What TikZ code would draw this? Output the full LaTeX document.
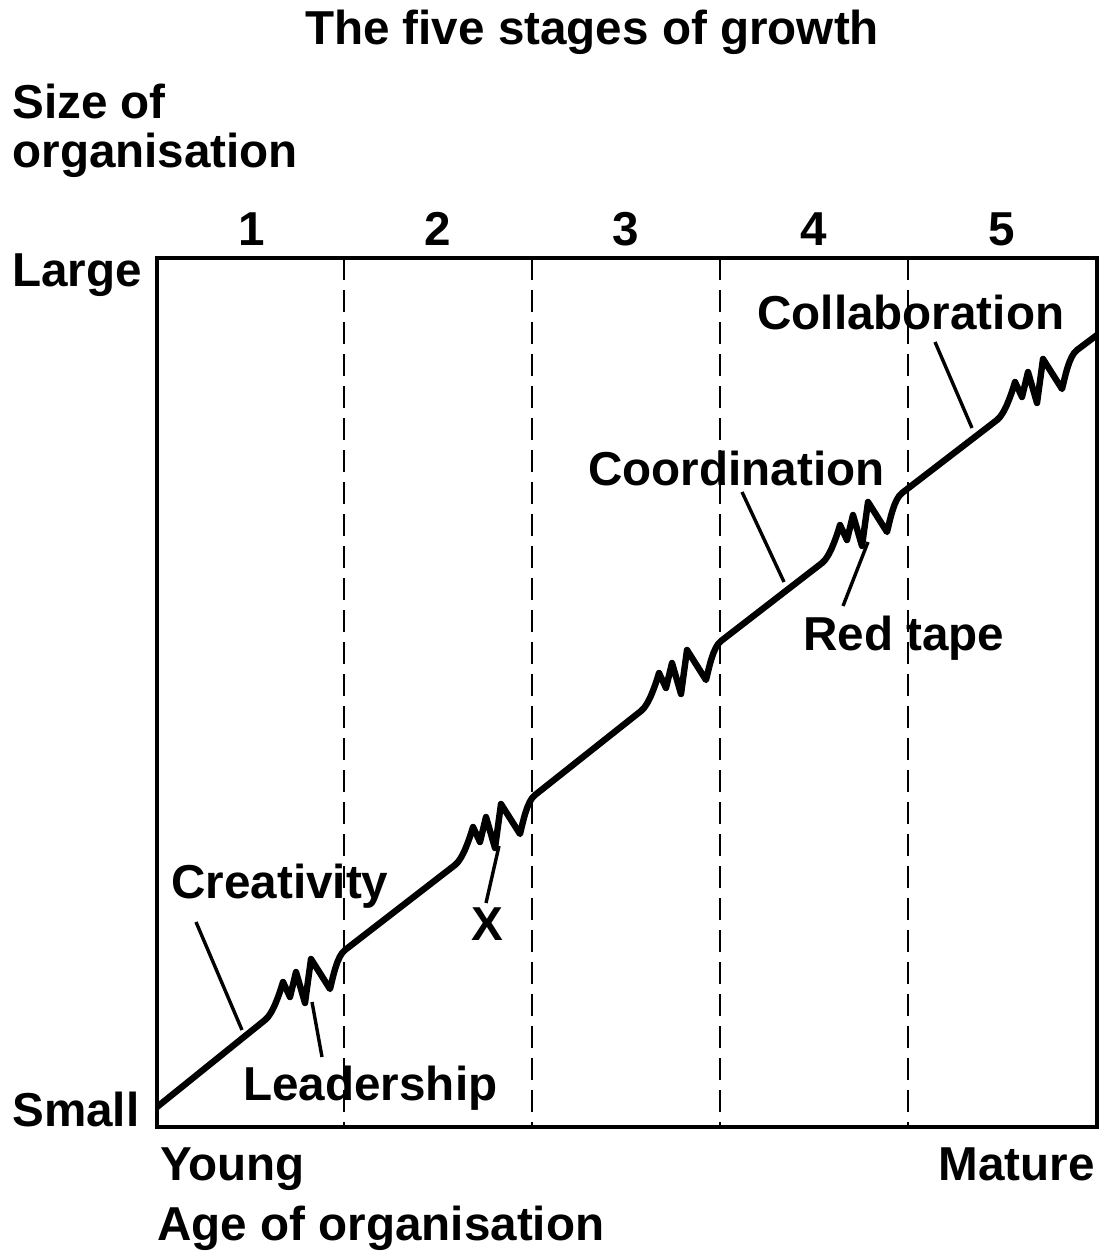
\documentclass[tikz,border=0pt]{standalone}
\usepackage{fontspec}
\setmainfont{Liberation Sans}
% one bump of the growth line, #1,#2 = its first peak
\newcommand{\kink}[2]{.. controls +(8,-6) and +(-3,10) .. (#1,#2) -- ++(7,15) -- ++(6,-25) -- ++(9,31) -- ++(6,-44) -- ++(19,30) .. controls +(3,-12) and +(-8,6) .. ++(15,-39)}
\begin{document}
\begin{tikzpicture}[x=.5pt, y=-.5pt,
        font=\fontsize{23.8}{28}\selectfont\bfseries,
        lbl/.style={anchor=base west, inner sep=0pt},
        divider/.style={dash pattern=on 11pt off 5pt, line width=.8pt},
        pointer/.style={line width=1.7pt}]
        \useasboundingbox (0,0) rectangle (1108,1251);
        % frame and stage dividers
        \draw[line width=1.8pt] (157,258) rectangle (1097,1127);
        \foreach \x in {344,532,720,908}
            \draw[divider] (\x,258) -- (\x,1127);
        \foreach \n/\x in {1/252,2/438,3/626,4/814,5/1002}
            \node[anchor=base, inner sep=0pt] (stage\n) at (\x,246) {\n};
        % growth line
        \draw[line width=3.2pt, line join=round] (157,1107) -- (265,1020) \kink{283}{982}
            -- (455,865) \kink{473}{827} -- (641,711) \kink{659}{673}
            -- (822,563) \kink{840}{525} -- (997,420) \kink{1015}{382} -- (1097,335);
        % texts
        \node[anchor=base, inner sep=0pt] (title) at (592,45) {The five stages of growth};
        \node[lbl] (sizeLbl) at (12,119) {Size of};
        \node[lbl] (sizeLbl2) at (12,168) {organisation};
        \node[lbl] (large) at (12,287) {Large};
        \node[lbl] (small) at (12,1126) {Small};
        \node[lbl] (young) at (160,1180) {Young};
        \node[anchor=base east, inner sep=0pt] (mature) at (1095,1180) {Mature};
        \node[lbl] (ageLbl) at (157,1240) {Age of organisation};
        \node[lbl] (creativity) at (171,898) {Creativity};
        \node[lbl] (leadership) at (243,1100) {Leadership};
        \node[anchor=base, inner sep=0pt] (xLbl) at (487,940) {X};
        \node[lbl] (coordination) at (588,485) {Coordination};
        \node[lbl] (redTape) at (803,650) {Red tape};
        \node[lbl] (collaboration) at (757,329) {Collaboration};
        % pointers
        \coordinate (creaFoot) at (196,922);   \coordinate (creaTip) at (242,1030);
        \coordinate (leadFoot) at (322,1057);  \coordinate (leadTip) at (312,1002);
        \coordinate (xFoot) at (486,903);      \coordinate (xTip) at (499,846);
        \coordinate (coorFoot) at (742,492);   \coordinate (coorTip) at (784,582);
        \coordinate (redFoot) at (843,606);    \coordinate (redTip) at (868,542);
        \coordinate (collFoot) at (935,342);   \coordinate (collTip) at (972,428);
        \foreach \a/\b in {creaFoot/creaTip, leadFoot/leadTip, xFoot/xTip,
                coorFoot/coorTip, redFoot/redTip, collFoot/collTip}
            \draw[pointer] (\a) -- (\b);
\end{tikzpicture}
\end{document}
